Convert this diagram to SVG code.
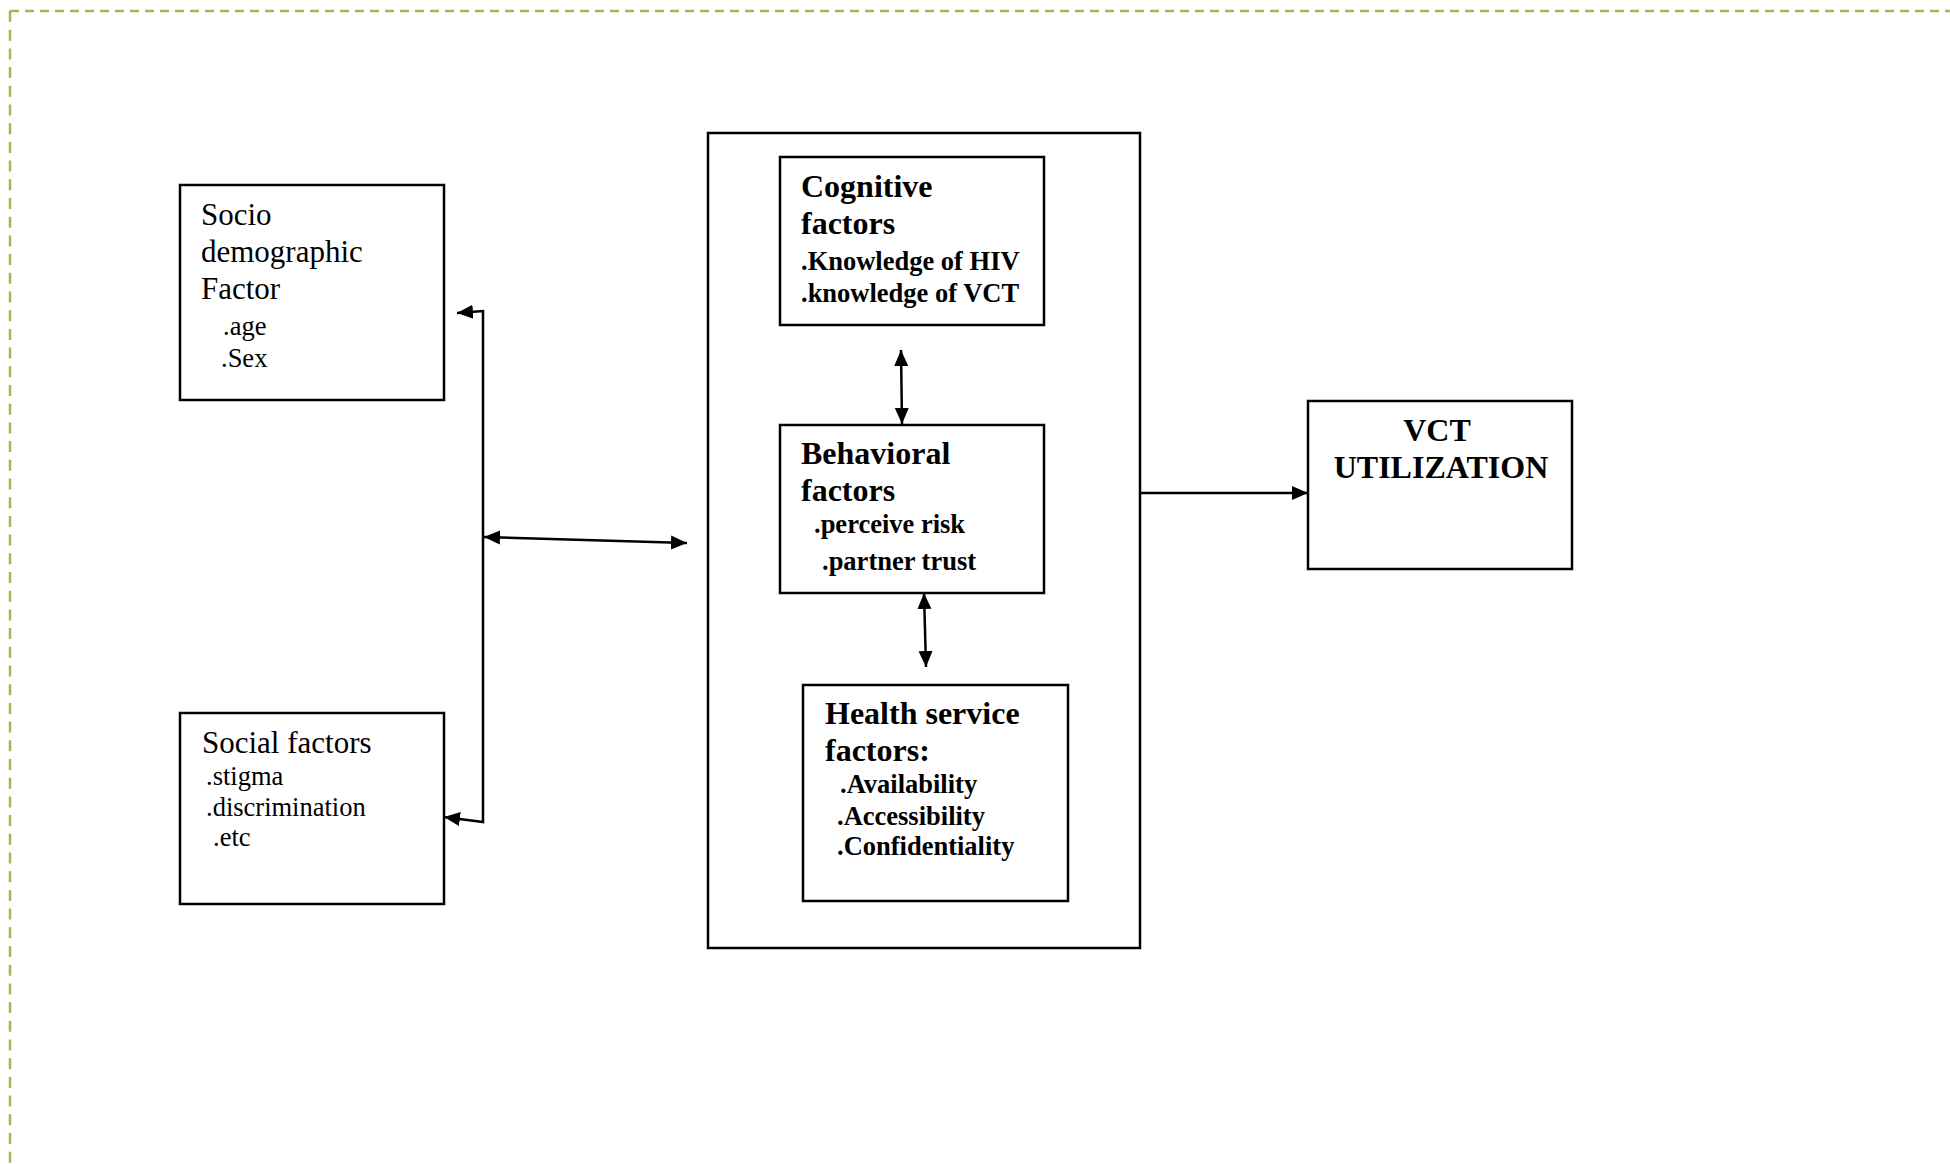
<svg xmlns="http://www.w3.org/2000/svg" width="1950" height="1164" viewBox="0 0 1950 1164">
<style>
.box{fill:#fff;stroke:#000;stroke-width:2.5}
.con{fill:none;stroke:#000;stroke-width:2.5}
.r{font-family:"Liberation Serif","Times New Roman",serif;fill:#000}
.h{font-size:31px}
.s{font-size:26.5px}
.bh{font-size:32px;font-weight:bold}
.bs{font-size:26.5px;font-weight:bold}
.frame{fill:none;stroke:#9bbb59;stroke-width:2.5}
</style>
<defs>
<marker id="ah" viewBox="0 0 16 16" markerWidth="16" markerHeight="16" markerUnits="userSpaceOnUse" refX="16" refY="8" orient="auto-start-reverse">
<path d="M0,1 L16,8 L0,15 z" fill="#000"/>
</marker>
</defs>
<rect width="1950" height="1164" fill="#fff"/>
<g id="frame">
<line class="frame" x1="10" y1="11" x2="1950" y2="11" stroke-dasharray="9 6"/>
<line class="frame" x1="10" y1="11" x2="10" y2="1164" stroke-dasharray="11 7.7"/>
</g>
<g id="socio">
<rect class="box" x="180" y="185" width="264" height="215"/>
<text class="r h" x="201" y="225">Socio</text>
<text class="r h" x="201" y="262">demographic</text>
<text class="r h" x="201" y="299">Factor</text>
<text class="r s" x="223" y="335">.age</text>
<text class="r s" x="221" y="367">.Sex</text>
</g>
<g id="social">
<rect class="box" x="180" y="713" width="264" height="191"/>
<text class="r h" x="202" y="753">Social factors</text>
<text class="r s" x="206" y="785">.stigma</text>
<text class="r s" x="206" y="816">.discrimination</text>
<text class="r s" x="213" y="846">.etc</text>
</g>
<g id="container">
<rect class="box" x="708" y="133" width="432" height="815"/>
</g>
<g id="cognitive">
<rect class="box" x="780" y="157" width="264" height="168"/>
<text class="r bh" x="801" y="197">Cognitive</text>
<text class="r bh" x="801" y="234">factors</text>
<text class="r bs" x="801" y="270">.Knowledge of HIV</text>
<text class="r bs" x="801" y="302">.knowledge of VCT</text>
</g>
<g id="behavioral">
<rect class="box" x="780" y="425" width="264" height="168"/>
<text class="r bh" x="801" y="464">Behavioral</text>
<text class="r bh" x="801" y="501">factors</text>
<text class="r bs" x="814" y="533">.perceive risk</text>
<text class="r bs" x="822" y="570">.partner trust</text>
</g>
<g id="health">
<rect class="box" x="803" y="685" width="265" height="216"/>
<text class="r bh" x="825" y="724">Health service</text>
<text class="r bh" x="825" y="761">factors:</text>
<text class="r bs" x="840" y="793">.Availability</text>
<text class="r bs" x="837" y="825">.Accessibility</text>
<text class="r bs" x="837" y="855">.Confidentiality</text>
</g>
<g id="vct">
<rect class="box" x="1308" y="401" width="264" height="168"/>
<text class="r bh" x="1437" y="441" text-anchor="middle">VCT</text>
<text class="r bh" x="1441" y="478" text-anchor="middle">UTILIZATION</text>
</g>
<g id="connectors">
<polyline class="con" points="457,313 483,311 483,822 444,817" marker-start="url(#ah)" marker-end="url(#ah)"/>
<line class="con" x1="484" y1="537" x2="687" y2="543" marker-start="url(#ah)" marker-end="url(#ah)"/>
<line class="con" x1="901" y1="350" x2="902" y2="424" marker-start="url(#ah)" marker-end="url(#ah)"/>
<line class="con" x1="924" y1="593" x2="926" y2="667" marker-start="url(#ah)" marker-end="url(#ah)"/>
<line class="con" x1="1140" y1="493" x2="1308" y2="493" marker-end="url(#ah)"/>
</g>
</svg>
